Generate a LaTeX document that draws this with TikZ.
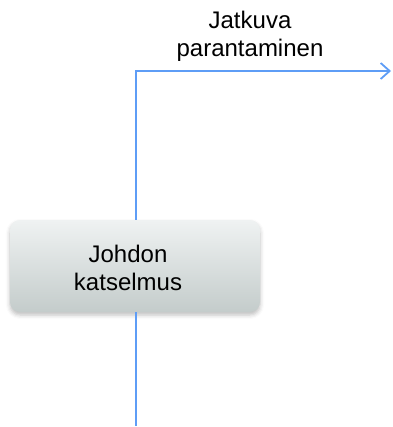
\documentclass[tikz,border=0pt]{standalone}
\usepackage{fontspec}
\setmainfont{Liberation Sans}
\usetikzlibrary{arrows.meta,shadows.blur}
\definecolor{flow}{HTML}{5E9DF6}
\definecolor{boxtop}{HTML}{EFF2F2}
\definecolor{boxbot}{HTML}{C4CCCB}
\tikzset{
  x=1pt, y=-1pt,
  flowline/.style={draw=flow, line width=2.4pt},
  stepbox/.style={rounded corners=10pt, top color=boxtop, bottom color=boxbot,
    minimum width=250pt, minimum height=92pt, inner sep=0pt,
    blur shadow={shadow xshift=0pt, shadow yshift=-3pt, shadow blur radius=4pt, shadow opacity=25}},
  lbl/.style={align=center, font=\fontsize{24}{28}\selectfont, inner sep=0pt}
}
\begin{document}
\begin{tikzpicture}
\useasboundingbox (0,0) rectangle (392,427);
\coordinate (bot) at (136,426);
\coordinate (corner) at (136,71);
\coordinate (tip) at (391,71);
\node[stepbox] (box) at (135,266) {};
\node[lbl] (boxtext) at (128,268) {Johdon\\katselmus};
\node[lbl] (label) at (250,36) {Jatkuva\\parantaminen};
\draw[flowline] (box.south -| bot) -- (bot);
\draw[flowline, -{Straight Barb[length=9pt,width=16pt,line width=1.8pt]}] (box.north -| corner) -- (corner) -- (tip);
\end{tikzpicture}
\end{document}
